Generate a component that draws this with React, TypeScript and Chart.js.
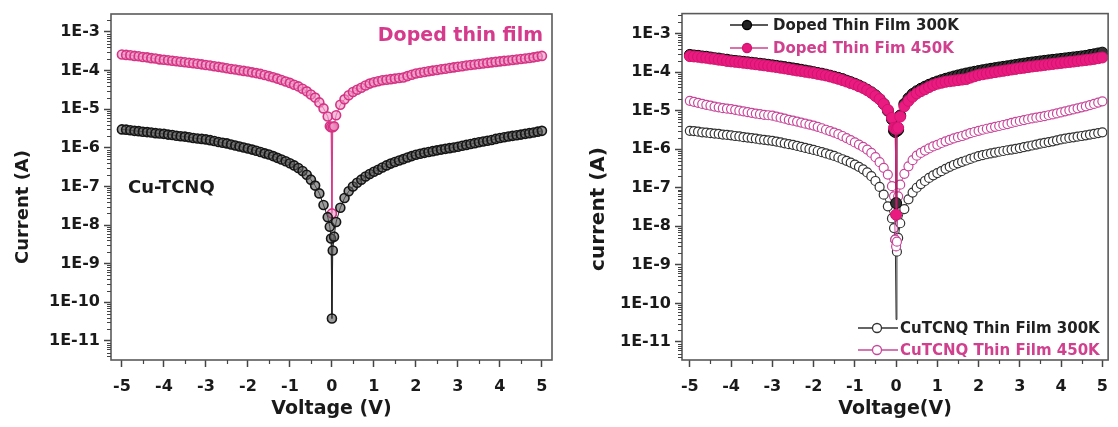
import React, { useEffect, useRef } from "react";
import { Chart, registerables } from "chart.js";
Chart.register(...registerables);

// ---------- data ----------
const voltage = [
  -5, -4.9, -4.8, -4.7, -4.6, -4.5, -4.4, -4.3, -4.2, -4.1,
  -4, -3.9, -3.8, -3.7, -3.6, -3.5, -3.4, -3.3, -3.2, -3.1,
  -3, -2.9, -2.8, -2.7, -2.6, -2.5, -2.4, -2.3, -2.2, -2.1,
  -2, -1.9, -1.8, -1.7, -1.6, -1.5, -1.4, -1.3, -1.2, -1.1,
  -1, -0.9, -0.8, -0.7, -0.6, -0.5, -0.4, -0.3, -0.2, -0.1,
  -0.05, -0.02, 0, 0.02, 0.05,
  0.1, 0.2, 0.3, 0.4, 0.5, 0.6, 0.7, 0.8, 0.9, 1,
  1.1, 1.2, 1.3, 1.4, 1.5, 1.6, 1.7, 1.8, 1.9, 2,
  2.1, 2.2, 2.3, 2.4, 2.5, 2.6, 2.7, 2.8, 2.9, 3,
  3.1, 3.2, 3.3, 3.4, 3.5, 3.6, 3.7, 3.8, 3.9, 4,
  4.1, 4.2, 4.3, 4.4, 4.5, 4.6, 4.7, 4.8, 4.9, 5,
];

const doped450K = [
  2.6e-4, 2.55e-4, 2.5e-4, 2.4e-4, 2.35e-4, 2.25e-4, 2.2e-4, 2.1e-4, 2.05e-4, 1.95e-4,
  1.9e-4, 1.85e-4, 1.8e-4, 1.75e-4, 1.7e-4, 1.65e-4, 1.6e-4, 1.55e-4, 1.5e-4, 1.45e-4,
  1.4e-4, 1.35e-4, 1.3e-4, 1.25e-4, 1.2e-4, 1.15e-4, 1.1e-4, 1.07e-4, 1.02e-4, 9.8e-5,
  9.5e-5, 9.0e-5, 8.6e-5, 8.2e-5, 7.7e-5, 7.2e-5, 6.7e-5, 6.2e-5, 5.7e-5, 5.2e-5,
  4.8e-5, 4.3e-5, 3.9e-5, 3.4e-5, 2.9e-5, 2.4e-5, 2.0e-5, 1.5e-5, 1.05e-5, 6.5e-6,
  3.6e-6, 3.4e-6, 2e-8, 3.4e-6, 3.6e-6,
  7e-6, 1.3e-5, 1.8e-5, 2.3e-5, 2.8e-5, 3.2e-5, 3.6e-5, 4.1e-5, 4.6e-5, 5.0e-5,
  5.3e-5, 5.6e-5, 5.8e-5, 6.0e-5, 6.2e-5, 6.4e-5, 6.6e-5, 7.2e-5, 7.8e-5, 8.4e-5,
  8.8e-5, 9.2e-5, 9.6e-5, 1.0e-4, 1.04e-4, 1.08e-4, 1.12e-4, 1.17e-4, 1.21e-4, 1.26e-4,
  1.3e-4, 1.35e-4, 1.4e-4, 1.44e-4, 1.48e-4, 1.53e-4, 1.58e-4, 1.63e-4, 1.68e-4, 1.73e-4,
  1.78e-4, 1.83e-4, 1.88e-4, 1.94e-4, 2.0e-4, 2.06e-4, 2.12e-4, 2.2e-4, 2.3e-4, 2.4e-4,
];

const doped300K = [
  2.8e-4, 2.7e-4, 2.65e-4, 2.55e-4, 2.5e-4, 2.4e-4, 2.3e-4, 2.25e-4, 2.15e-4, 2.1e-4,
  2.0e-4, 1.95e-4, 1.9e-4, 1.85e-4, 1.8e-4, 1.75e-4, 1.7e-4, 1.65e-4, 1.6e-4, 1.55e-4,
  1.5e-4, 1.45e-4, 1.4e-4, 1.35e-4, 1.3e-4, 1.25e-4, 1.2e-4, 1.15e-4, 1.1e-4, 1.05e-4,
  1.0e-4, 9.5e-5, 9.1e-5, 8.6e-5, 8.1e-5, 7.6e-5, 7.1e-5, 6.6e-5, 6.0e-5, 5.5e-5,
  5.0e-5, 4.5e-5, 4.0e-5, 3.5e-5, 3.0e-5, 2.5e-5, 2.0e-5, 1.5e-5, 1.0e-5, 6.0e-6,
  3.0e-6, 2.8e-6, 4e-8, 3.0e-6, 3.2e-6,
  7.5e-6, 1.5e-5, 2.1e-5, 2.7e-5, 3.2e-5, 3.7e-5, 4.2e-5, 4.7e-5, 5.2e-5, 5.7e-5,
  6.2e-5, 6.7e-5, 7.2e-5, 7.7e-5, 8.2e-5, 8.7e-5, 9.2e-5, 9.7e-5, 1.02e-4, 1.07e-4,
  1.12e-4, 1.17e-4, 1.22e-4, 1.27e-4, 1.32e-4, 1.37e-4, 1.42e-4, 1.48e-4, 1.54e-4, 1.6e-4,
  1.66e-4, 1.72e-4, 1.78e-4, 1.84e-4, 1.9e-4, 1.96e-4, 2.02e-4, 2.08e-4, 2.14e-4, 2.2e-4,
  2.27e-4, 2.34e-4, 2.41e-4, 2.48e-4, 2.56e-4, 2.64e-4, 2.78e-4, 2.9e-4, 3.05e-4, 3.2e-4,
];

const cuTCNQ300K = [
  3.0e-6, 2.95e-6, 2.85e-6, 2.75e-6, 2.7e-6, 2.6e-6, 2.55e-6, 2.5e-6, 2.4e-6, 2.35e-6,
  2.3e-6, 2.2e-6, 2.15e-6, 2.05e-6, 2.0e-6, 1.95e-6, 1.88e-6, 1.8e-6, 1.75e-6, 1.7e-6,
  1.65e-6, 1.58e-6, 1.5e-6, 1.42e-6, 1.35e-6, 1.3e-6, 1.22e-6, 1.15e-6, 1.08e-6, 1.02e-6,
  9.6e-7, 9.0e-7, 8.4e-7, 7.8e-7, 7.2e-7, 6.7e-7, 6.1e-7, 5.5e-7, 5.0e-7, 4.5e-7,
  4.0e-7, 3.5e-7, 3.0e-7, 2.5e-7, 2.0e-7, 1.5e-7, 1.05e-7, 6.6e-8, 3.3e-8, 1.6e-8,
  9e-9, 4.5e-9, 3.8e-11, 2.2e-9, 5e-9,
  1.2e-8, 2.8e-8, 5e-8, 7.5e-8, 1.0e-7, 1.25e-7, 1.5e-7, 1.8e-7, 2.1e-7, 2.4e-7,
  2.7e-7, 3.1e-7, 3.5e-7, 3.9e-7, 4.3e-7, 4.7e-7, 5.1e-7, 5.6e-7, 6.1e-7, 6.6e-7,
  7.0e-7, 7.4e-7, 7.8e-7, 8.2e-7, 8.6e-7, 9.0e-7, 9.4e-7, 9.8e-7, 1.02e-6, 1.07e-6,
  1.13e-6, 1.19e-6, 1.25e-6, 1.32e-6, 1.39e-6, 1.46e-6, 1.53e-6, 1.6e-6, 1.7e-6, 1.8e-6,
  1.88e-6, 1.96e-6, 2.04e-6, 2.12e-6, 2.2e-6, 2.3e-6, 2.4e-6, 2.5e-6, 2.62e-6, 2.75e-6,
];

const cuTCNQ450K = [
  1.8e-5, 1.7e-5, 1.6e-5, 1.5e-5, 1.42e-5, 1.35e-5, 1.28e-5, 1.22e-5, 1.16e-5, 1.13e-5,
  1.1e-5, 1.05e-5, 1.0e-5, 9.6e-6, 9.2e-6, 8.8e-6, 8.4e-6, 8.1e-6, 7.8e-6, 7.6e-6,
  7.4e-6, 7.0e-6, 6.6e-6, 6.2e-6, 5.8e-6, 5.5e-6, 5.2e-6, 4.9e-6, 4.6e-6, 4.35e-6,
  4.1e-6, 3.8e-6, 3.5e-6, 3.2e-6, 2.95e-6, 2.7e-6, 2.45e-6, 2.2e-6, 1.95e-6, 1.72e-6,
  1.5e-6, 1.32e-6, 1.15e-6, 9.8e-7, 8.0e-7, 6.2e-7, 4.6e-7, 3.3e-7, 2.2e-7, 1.1e-7,
  6e-8, 4.5e-9, 3e-9, 4e-9, 6e-8,
  1.2e-7, 2.3e-7, 3.6e-7, 5.2e-7, 6.8e-7, 8.0e-7, 9.2e-7, 1.05e-6, 1.18e-6, 1.3e-6,
  1.45e-6, 1.6e-6, 1.75e-6, 1.9e-6, 2.05e-6, 2.2e-6, 2.4e-6, 2.6e-6, 2.8e-6, 3.0e-6,
  3.2e-6, 3.4e-6, 3.6e-6, 3.8e-6, 4.0e-6, 4.25e-6, 4.5e-6, 4.8e-6, 5.1e-6, 5.4e-6,
  5.7e-6, 6.0e-6, 6.3e-6, 6.6e-6, 6.9e-6, 7.2e-6, 7.6e-6, 8.0e-6, 8.5e-6, 9.0e-6,
  9.6e-6, 1.02e-5, 1.08e-5, 1.15e-5, 1.22e-5, 1.3e-5, 1.4e-5, 1.5e-5, 1.62e-5, 1.75e-5,
];

// left panel uses the same measurements
const dopedThinFilm = doped450K;
const cuTCNQ = cuTCNQ300K;

const yTickValues = [1e-11, 1e-10, 1e-9, 1e-8, 1e-7, 1e-6, 1e-5, 1e-4, 1e-3];
const yTickLabels = ["1E-11", "1E-10", "1E-9", "1E-8", "1E-7", "1E-6", "1E-5", "1E-4", "1E-3"];
const xTickValues = [-5, -4, -3, -2, -1, 0, 1, 2, 3, 4, 5];
const xMinorValues = [-4.5, -3.5, -2.5, -1.5, -0.5, 0.5, 1.5, 2.5, 3.5, 4.5];

// ---------- styling ----------
const FONT = "'DejaVu Sans', 'Liberation Sans', Arial, sans-serif";
const PINK_TEXT = "#d63a8c";
const H = 427;

const toPoints = (ys: number[]) => voltage.map((v, i) => ({ x: v, y: ys[i] }));

type Panel = {
  width: number;
  left: number;
  right: number;
  top: number;
  bottom: number;
  xMin: number;
  xMax: number;
  yMin: number;
  yMax: number;
  datasets: any[];
  yTitle: string;
  yTitleX: number;
  yTitleY: number;
  yTitleSize: number;
  xTitle: string;
  xTitleY: number;
  xTitleSize: number;
  extra: (ctx: CanvasRenderingContext2D) => void;
};

function drawLegendRow(
  ctx: CanvasRenderingContext2D,
  x0: number,
  x1: number,
  mx: number,
  tx: number,
  y: number,
  lineColor: string,
  fill: string,
  stroke: string,
  text: string,
  textColor: string
) {
  ctx.save();
  ctx.strokeStyle = lineColor;
  ctx.lineWidth = 1.5;
  ctx.beginPath();
  ctx.moveTo(x0, y);
  ctx.lineTo(x1, y);
  ctx.stroke();
  ctx.beginPath();
  ctx.arc(mx, y, 4.5, 0, Math.PI * 2);
  ctx.fillStyle = fill;
  ctx.fill();
  ctx.lineWidth = 1.3;
  ctx.strokeStyle = stroke;
  ctx.stroke();
  ctx.font = `bold 15px ${FONT}`;
  ctx.fillStyle = textColor;
  ctx.textAlign = "left";
  ctx.textBaseline = "middle";
  ctx.fillText(text, tx, y + 1);
  ctx.restore();
}

function makeChart(canvas: HTMLCanvasElement, p: Panel) {
  const framePlugin = {
    id: "frame",
    afterDraw(chart: any) {
      const ctx: CanvasRenderingContext2D = chart.ctx;
      const a = chart.chartArea;
      const xs = chart.scales.x;
      const ys = chart.scales.y;
      ctx.save();
      // frame
      ctx.strokeStyle = "#5a5a5a";
      ctx.lineWidth = 1.6;
      ctx.strokeRect(a.left, a.top, a.right - a.left, a.bottom - a.top);
      // minor ticks
      ctx.strokeStyle = "#444";
      ctx.lineWidth = 1.2;
      ctx.beginPath();
      for (let n = -12; n <= -3; n++) {
        for (let m = 2; m <= 9; m++) {
          const v = m * Math.pow(10, n);
          if (v < p.yMin || v > p.yMax) continue;
          const y = Math.round(ys.getPixelForValue(v)) + 0.5;
          ctx.moveTo(a.left - 4, y);
          ctx.lineTo(a.left, y);
        }
      }
      xMinorValues.forEach((v) => {
        const x = Math.round(xs.getPixelForValue(v)) + 0.5;
        ctx.moveTo(x, a.bottom);
        ctx.lineTo(x, a.bottom + 4);
      });
      ctx.stroke();
      // axis titles
      ctx.fillStyle = "#1a1a1a";
      ctx.textAlign = "center";
      ctx.textBaseline = "middle";
      ctx.font = `bold ${p.xTitleSize}px ${FONT}`;
      ctx.fillText(p.xTitle, (a.left + a.right) / 2, p.xTitleY);
      ctx.save();
      ctx.translate(p.yTitleX, p.yTitleY);
      ctx.rotate(-Math.PI / 2);
      ctx.font = `bold ${p.yTitleSize}px ${FONT}`;
      ctx.fillText(p.yTitle, 0, 0);
      ctx.restore();
      p.extra(ctx);
      ctx.restore();
    },
  };

  const tickFont = { family: FONT, size: 16, weight: "bold" as const };

  return new Chart(canvas, {
    type: "line",
    data: { datasets: p.datasets },
    options: {
      responsive: false,
      animation: false,
      devicePixelRatio: 1,
      layout: { padding: { left: 0, right: p.width - p.right, top: p.top, bottom: 0 } },
      plugins: { legend: { display: false }, tooltip: { enabled: false } },
      scales: {
        x: {
          type: "linear",
          min: p.xMin,
          max: p.xMax,
          afterFit: (s: any) => {
            s.height = H - p.bottom;
          },
          afterBuildTicks: (s: any) => {
            s.ticks = xTickValues.map((v) => ({ value: v }));
          },
          ticks: {
            autoSkip: false,
            maxRotation: 0,
            padding: 10,
            color: "#1a1a1a",
            font: tickFont,
            callback: (v: any) => String(v),
          },
          grid: {
            drawOnChartArea: false,
            drawTicks: true,
            tickLength: 7,
            tickColor: "#444",
            tickWidth: 1.5,
          },
          border: { display: false },
        },
        y: {
          type: "logarithmic",
          min: p.yMin,
          max: p.yMax,
          afterFit: (s: any) => {
            s.width = p.left;
          },
          afterBuildTicks: (s: any) => {
            s.ticks = yTickValues.map((v) => ({ value: v }));
          },
          ticks: {
            autoSkip: false,
            padding: 4,
            color: "#1a1a1a",
            font: tickFont,
            callback: (v: any) => {
              const i = yTickValues.findIndex(
                (t) => Math.abs(Math.log10(t) - Math.log10(Number(v))) < 1e-6
              );
              return i >= 0 ? yTickLabels[i] : "";
            },
          },
          grid: {
            drawOnChartArea: false,
            drawTicks: true,
            tickLength: 7,
            tickColor: "#444",
            tickWidth: 1.5,
          },
          border: { display: false },
        },
      },
    } as any,
    plugins: [framePlugin],
  });
}

const leftPanel: Panel = {
  width: 560,
  left: 111,
  right: 552,
  top: 14,
  bottom: 360,
  xMin: -5.26,
  xMax: 5.24,
  yMin: 3.2e-12,
  yMax: 2.92e-3,
  datasets: [
    {
      label: "Cu-TCNQ",
      data: toPoints(cuTCNQ),
      borderColor: "#222",
      borderWidth: 1,
      pointRadius: 4.5,
      pointBorderWidth: 1.6,
      pointBorderColor: "#151515",
      pointBackgroundColor: "rgba(90,90,90,0.6)",
      tension: 0,
    },
    {
      label: "Doped thin film",
      data: toPoints(dopedThinFilm),
      borderColor: "#d9398a",
      borderWidth: 1,
      pointRadius: 4.5,
      pointBorderWidth: 1.6,
      pointBorderColor: "#d63384",
      pointBackgroundColor: "rgba(236,150,196,0.6)",
      tension: 0,
    },
  ],
  yTitle: "Current (A)",
  yTitleX: 23,
  yTitleY: 207,
  yTitleSize: 18,
  xTitle: "Voltage (V)",
  xTitleY: 409,
  xTitleSize: 19,
  extra: (ctx) => {
    ctx.font = `bold 19px ${FONT}`;
    ctx.fillStyle = PINK_TEXT;
    ctx.textAlign = "right";
    ctx.textBaseline = "middle";
    ctx.fillText("Doped thin film", 543, 36);
    ctx.font = `bold 18px ${FONT}`;
    ctx.fillStyle = "#1a1a1a";
    ctx.textAlign = "left";
    ctx.fillText("Cu-TCNQ", 128, 188);
  },
};

const hideDeepPoint = (c: any) => (c.raw && c.raw.y < 1e-10 ? 0 : 4.5);

const rightPanel: Panel = {
  width: 558,
  left: 122,
  right: 556,
  top: 13,
  bottom: 360,
  xMin: -5.19,
  xMax: 5.14,
  yMin: 3.4e-12,
  yMax: 3.3e-3,
  datasets: [
    {
      label: "Doped Thin Fim 450K",
      data: toPoints(doped450K),
      borderColor: "#e0187a",
      borderWidth: 1,
      pointRadius: 5.5,
      pointBorderWidth: 1,
      pointBorderColor: "#d3126f",
      pointBackgroundColor: "#ea1b80",
      tension: 0,
    },
    {
      label: "Doped Thin Film 300K",
      data: toPoints(doped300K),
      borderColor: "#111",
      borderWidth: 1,
      pointRadius: 5.5,
      pointBorderWidth: 1,
      pointBorderColor: "#000",
      pointBackgroundColor: "#333",
      tension: 0,
    },
    {
      label: "CuTCNQ Thin Film 450K",
      data: toPoints(cuTCNQ450K),
      borderColor: "#c8479a",
      borderWidth: 1,
      pointRadius: 4.5,
      pointBorderWidth: 1.2,
      pointBorderColor: "#c8479a",
      pointBackgroundColor: "#ffffff",
      tension: 0,
    },
    {
      label: "CuTCNQ Thin Film 300K",
      data: toPoints(cuTCNQ300K),
      borderColor: "#333",
      borderWidth: 1,
      pointRadius: hideDeepPoint,
      pointBorderWidth: 1.2,
      pointBorderColor: "#333",
      pointBackgroundColor: "#ffffff",
      tension: 0,
    },
  ],
  yTitle: "current (A)",
  yTitleX: 39,
  yTitleY: 209,
  yTitleSize: 20,
  xTitle: "Voltage(V)",
  xTitleY: 409,
  xTitleSize: 19,
  extra: (ctx) => {
    drawLegendRow(ctx, 170, 208, 187, 213, 25, "#222", "#222", "#000", "Doped Thin Film 300K", "#222");
    drawLegendRow(ctx, 170, 208, 187, 213, 48, "#d0408e", "#e8197e", "#d3126f", "Doped Thin Fim 450K", "#d0408e");
    drawLegendRow(ctx, 298, 338, 317, 340, 328, "#333", "#fff", "#333", "CuTCNQ Thin Film 300K", "#222");
    drawLegendRow(ctx, 298, 338, 317, 340, 350, "#c8479a", "#fff", "#c8479a", "CuTCNQ Thin Film 450K", "#d0408e");
  },
};

function ChartCanvas({ panel, x }: { panel: Panel; x: number }) {
  const ref = useRef<HTMLCanvasElement | null>(null);
  useEffect(() => {
    if (!ref.current) return;
    const chart = makeChart(ref.current, panel);
    return () => chart.destroy();
  }, [panel]);
  return (
    <canvas
      ref={ref}
      width={panel.width}
      height={H}
      style={{ position: "absolute", left: x, top: 0, width: panel.width, height: H }}
    />
  );
}

export default function App() {
  return (
    <div
      style={{
        position: "absolute",
        left: 0,
        top: 0,
        width: 1118,
        height: H,
        background: "#ffffff",
        overflow: "hidden",
      }}
    >
      <ChartCanvas panel={leftPanel} x={0} />
      <ChartCanvas panel={rightPanel} x={560} />
    </div>
  );
}
